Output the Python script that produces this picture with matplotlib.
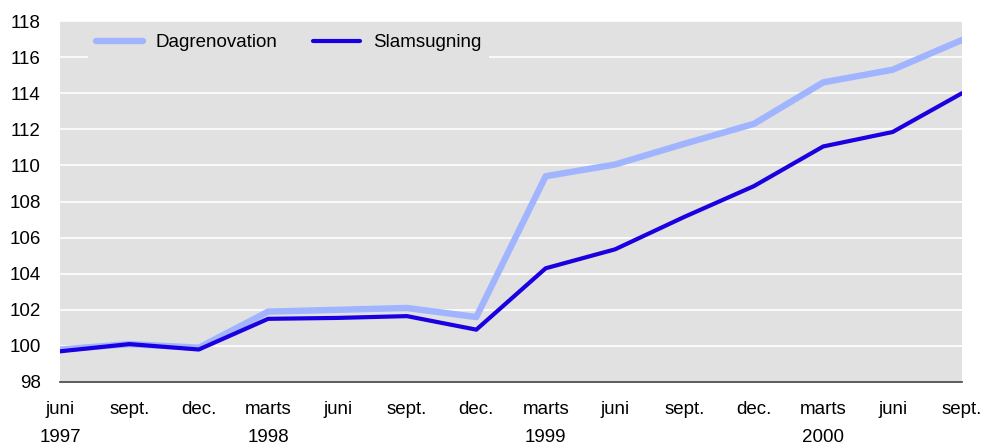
import matplotlib.pyplot as plt
import numpy as np

plt.rcParams["font.family"] = ["Liberation Sans", "DejaVu Sans"]

labels = ["juni\n1997", "sept.", "dec.", "marts\n1998", "juni", "sept.", "dec.",
          "marts\n1999", "juni", "sept.", "dec.", "marts\n2000", "juni", "sept."]
dagrenovation = [99.8, 100.1, 99.9, 101.9, 102.0, 102.1, 101.6,
                 109.4, 110.05, 111.2, 112.3, 114.6, 115.3, 116.95]
slamsugning = [99.7, 100.1, 99.8, 101.5, 101.55, 101.65, 100.9,
               104.3, 105.35, 107.15, 108.85, 111.05, 111.85, 114.0]

x = np.arange(len(labels))

fig = plt.figure(figsize=(9.85, 4.47), dpi=100)
ax = fig.add_axes([60 / 985, 1 - 382 / 447, 902 / 985, 361 / 447])
ax.set_facecolor("#e1e1e1")

ax.plot(x, dagrenovation, "-", color="#a0b4ff", lw=4.6, label="Dagrenovation",
        solid_capstyle="round")
ax.plot(x, slamsugning, "-", color="#1a00e0", lw=3.0, label="Slamsugning",
        solid_capstyle="round")

ax.set_xlim(0, 13)
ax.set_ylim(98, 118)
ax.set_yticks(np.arange(98, 119, 2))
ax.set_xticks(x)
ax.set_xticklabels(labels, fontsize=13.5, linespacing=1.8)
ax.tick_params(axis="both", length=0, labelsize=13.5)
ax.tick_params(axis="x", pad=14)
ax.tick_params(axis="y", pad=14)

ax.yaxis.grid(True, color="white", lw=1.2)
ax.set_axisbelow(True)
for side in ["top", "right", "left"]:
    ax.spines[side].set_visible(False)
ax.spines["bottom"].set_color("#404040")
ax.spines["bottom"].set_linewidth(1.2)

leg = ax.legend(loc="upper left", ncol=2, fontsize=13.5, frameon=True,
                facecolor="#e1e1e1", edgecolor="none", framealpha=1,
                handlelength=2.5, handletextpad=0.7, columnspacing=1.9,
                borderaxespad=0.3, bbox_to_anchor=(0.025, 1.0))
leg.get_frame().set_boxstyle("square", pad=0)

fig.savefig("out.png", dpi=100)
